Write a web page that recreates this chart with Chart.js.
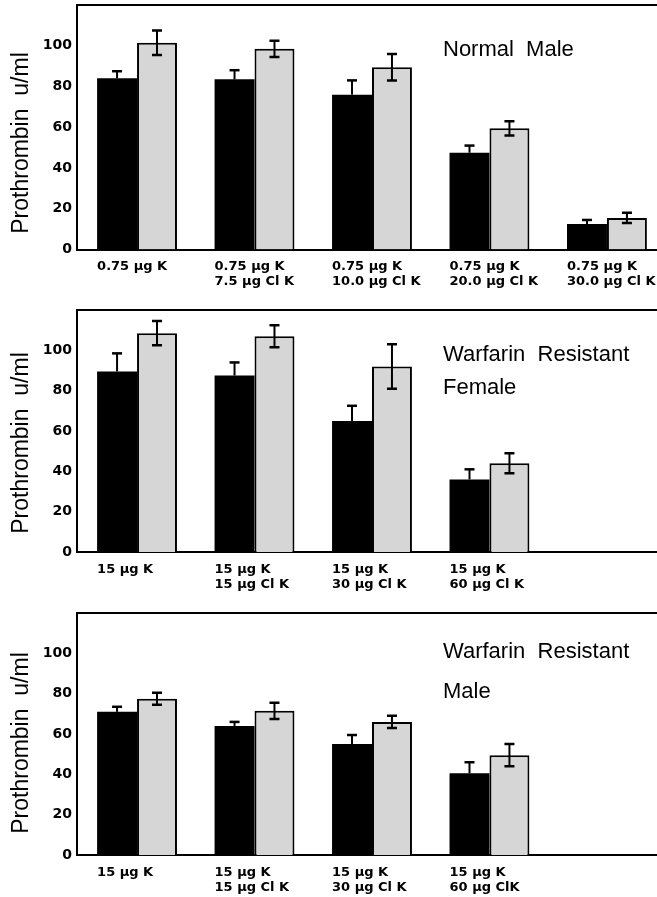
<!DOCTYPE html>
<html>
<head>
<meta charset="utf-8">
<script src="https://cdn.jsdelivr.net/npm/chart.js@4.4.1/dist/chart.umd.min.js"></script>
<style>
  body { margin: 0; background: #fff; }
  .panel { position: relative; width: 657px; }
</style>
</head>
<body>
<div class="panel" style="height:300px"><canvas id="normalMale"></canvas></div>
<div class="panel" style="height:300px"><canvas id="resistantFemale"></canvas></div>
<div class="panel" style="height:297px"><canvas id="resistantMale"></canvas></div>
<script>
// y axis ticks (shared by all three panels)
const yTicks = [0, 20, 40, 60, 80, 100];

// Normal Male
const normalLabels = [["0.75 µg K"], ["0.75 µg K", "7.5 µg Cl K"], ["0.75 µg K", "10.0 µg Cl K"],
                      ["0.75 µg K", "20.0 µg Cl K"], ["0.75 µg K", "30.0 µg Cl K"]];
const normalDark = [84, 83.5, 76, 47.5, 12.5];
const normalDarkErr = [3.5, 4.5, 7, 3.5, 2];
const normalLight = [101.5, 98.5, 89.5, 59.5, 15.5];
const normalLightErr = [6, 4, 6.5, 3.5, 2.5];

// Warfarin Resistant Female
const femaleLabels = [["15 µg K"], ["15 µg K", "15 µg Cl K"], ["15 µg K", "30 µg Cl K"], ["15 µg K", "60 µg Cl K"]];
const femaleDark = [89.5, 87.5, 65, 36];
const femaleDarkErr = [9, 6.5, 7.5, 5];
const femaleLight = [108.5, 107, 92, 44];
const femaleLightErr = [6, 5.5, 11, 5];

// Warfarin Resistant Male
const maleLabels = [["15 µg K"], ["15 µg K", "15 µg Cl K"], ["15 µg K", "30 µg Cl K"], ["15 µg K", "60 µg ClK"]];
const maleDark = [71, 64, 55, 40.5];
const maleDarkErr = [2.5, 2, 4.5, 5.5];
const maleLight = [77.5, 71.5, 66, 49.5];
const maleLightErr = [3, 4, 3, 5.5];

// draws the error bars (dark bars: upper half only, light bars: both ways)
const errorBars = {
    id: 'errorBars',
    afterDatasetsDraw(chart) {
        const ctx = chart.ctx;
        const yScale = chart.scales.y;
        ctx.save();
        ctx.strokeStyle = '#000';
        chart.data.datasets.forEach((ds, di) => {
            chart.getDatasetMeta(di).data.forEach((bar, i) => {
                const v = ds.data[i].y, e = ds.errors[i];
                const top = yScale.getPixelForValue(v + e);
                const low = ds.errorBoth ? yScale.getPixelForValue(v - e) : bar.y;
                ctx.lineWidth = 2;
                ctx.beginPath();
                ctx.moveTo(bar.x, low);
                ctx.lineTo(bar.x, top);
                ctx.stroke();
                ctx.lineWidth = 2.5;
                ctx.beginPath();
                ctx.moveTo(bar.x - 5, top);
                ctx.lineTo(bar.x + 5, top);
                if (ds.errorBoth) {
                    ctx.moveTo(bar.x - 5, low);
                    ctx.lineTo(bar.x + 5, low);
                }
                ctx.stroke();
            });
        });
        ctx.restore();
    }
};

// frame top line, panel caption and the rotated y title
const panelText = {
    id: 'panelText',
    afterDraw(chart, args, opts) {
        const ctx = chart.ctx;
        const area = chart.chartArea;
        ctx.save();
        ctx.strokeStyle = '#000';
        ctx.lineWidth = 2;
        ctx.beginPath();
        ctx.moveTo(area.left - 1, area.top);
        ctx.lineTo(chart.width, area.top);
        ctx.stroke();

        ctx.fillStyle = '#000';
        ctx.font = '22px "Liberation Sans", Arial, sans-serif';
        ctx.textBaseline = 'middle';
        opts.lines.forEach((t, i) => ctx.fillText(t, opts.x, opts.ys[i]));

        ctx.translate(22, opts.titleY);
        ctx.rotate(-Math.PI / 2);
        ctx.font = '23px "Liberation Sans", Arial, sans-serif';
        ctx.textAlign = 'center';
        ctx.fillText('Prothrombin  u/ml', 0, 0);
        ctx.restore();
    }
};

function createChart(id, labels, dark, darkErr, light, lightErr, lines, ys, top, bottom, height) {
    const shift = 0.34; // label starts at left edge of dark bar
    new Chart(document.getElementById(id), {
        type: 'bar',
        data: {
            datasets: [{
                data: dark.map((v, i) => ({ x: i, y: v })),
                errors: darkErr,
                errorBoth: false,
                backgroundColor: '#000',
                borderWidth: 0
            }, {
                data: light.map((v, i) => ({ x: i, y: v })),
                errors: lightErr,
                errorBoth: true,
                backgroundColor: '#d6d6d6',
                borderColor: '#000',
                borderWidth: 2
            }]
        },
        options: {
            responsive: true,
            maintainAspectRatio: false,
            animation: false,
            categoryPercentage: 0.68,
            barPercentage: 1.0,
            layout: { padding: { top: top, left: 0, right: 0, bottom: 0 } },
            plugins: {
                legend: { display: false },
                tooltip: { enabled: false },
                panelText: { lines: lines, x: 443, ys: ys, titleY: 143 }
            },
            scales: {
                x: {
                    type: 'linear',
                    offset: false,
                    min: -0.511,
                    max: 4.426,
                    grid: { display: false, drawTicks: false },
                    border: { display: true, color: '#000', width: 2 },
                    afterBuildTicks: axis => { axis.ticks = labels.map((l, i) => ({ value: i - shift })); },
                    ticks: {
                        autoSkip: false,
                        maxRotation: 0,
                        align: 'start',
                        padding: 10,
                        color: '#000',
                        font: { family: 'DejaVu Sans', weight: 'bold', size: 13, lineHeight: 1.15 },
                        callback: (v, i) => labels[i]
                    },
                    afterFit: s => { s.height = height - bottom; s.paddingLeft = 0; s.paddingRight = 0; }
                },
                y: {
                    min: 0,
                    max: 120,
                    grid: { display: false, drawTicks: false },
                    border: { display: true, color: '#000', width: 2 },
                    afterBuildTicks: axis => { axis.ticks = yTicks.map(v => ({ value: v })); },
                    ticks: {
                        padding: 5,
                        color: '#000',
                        font: { family: 'DejaVu Sans', weight: 'bold', size: 14 }
                    },
                    afterFit: s => { s.width = 77; s.paddingTop = 0; s.paddingBottom = 0; }
                }
            }
        },
        plugins: [errorBars, panelText]
    });
}

createChart('normalMale', normalLabels, normalDark, normalDarkErr, normalLight, normalLightErr,
            ['Normal  Male'], [50], 5, 249.5, 300);
createChart('resistantFemale', femaleLabels, femaleDark, femaleDarkErr, femaleLight, femaleLightErr,
            ['Warfarin  Resistant', 'Female'], [55, 88], 10, 252, 300);
createChart('resistantMale', maleLabels, maleDark, maleDarkErr, maleLight, maleLightErr,
            ['Warfarin  Resistant', 'Male'], [52, 92], 13, 255, 297);
</script>
</body>
</html>
